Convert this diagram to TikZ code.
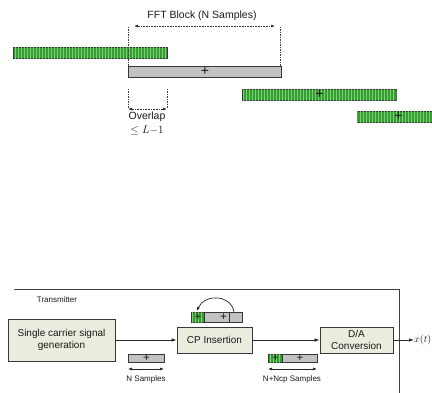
\documentclass[tikz,border=0pt]{standalone}
\usepackage{fontspec}
\setmainfont{Liberation Sans}
\usetikzlibrary{arrows.meta,patterns}
\definecolor{boxfill}{RGB}{236,236,222}
\definecolor{barfill}{RGB}{194,194,194}
\definecolor{greenfill}{RGB}{52,160,52}
\definecolor{greenline}{RGB}{125,205,115}
\definecolor{edge}{RGB}{55,55,55}
\begin{document}
\begin{tikzpicture}[x=1pt,y=-1pt,
  every node/.style={text=black!90},
  bar/.style={draw=edge, line width=0.8pt, inner sep=0pt, anchor=north west,
    font=\fontsize{14}{14}\selectfont},
  graybar/.style={bar, fill=barfill},
  greenbar/.style={bar, fill=greenfill,
    postaction={pattern=vertical lines, pattern color=greenline}},
  smallbar/.style={font=\fontsize{11.5}{11.5}\selectfont},
  block/.style={draw=edge, line width=0.8pt, fill=boxfill, align=center,
    inner sep=1pt, font=\fontsize{10}{12}\selectfont},
  label/.style={inner sep=0pt, font=\fontsize{8}{9}\selectfont},
  caption/.style={inner sep=0pt, font=\fontsize{10.5}{12}\selectfont},
  guide/.style={draw=black!75, line width=0.6pt, dash pattern=on 1.5pt off 1pt},
  span/.style={draw=black!80, line width=0.6pt, dash pattern=on 1pt off 0.6pt,
    {Latex[length=4pt,width=3pt]}-{Latex[length=4pt,width=3pt]}},
  solidspan/.style={draw=black!85, line width=0.6pt,
    {Latex[length=4pt,width=3pt]}-{Latex[length=4pt,width=3pt]}},
  flow/.style={draw=black!85, line width=0.7pt, -{Latex[length=5pt,width=3.5pt]}}
]
\useasboundingbox (0,0) rectangle (432,393);

% ---------- overlap of FFT blocks ----------
\node[caption] (fft) at (202,16) {FFT Block (N Samples)};
\node[greenbar, minimum width=154, minimum height=11] (g1) at (13,47) {};
\node[graybar, minimum width=153, minimum height=11] (blk) at (128,66) {+};
\node[greenbar, minimum width=154, minimum height=11] (g2) at (242,89) {+};
\node[greenbar, minimum width=82, minimum height=11] (g3) at (357,111) {+};

\coordinate (fl) at (128,27);
\coordinate (fr) at (280,27);
\coordinate (frb) at (280,66);
\draw[guide] (fl) -- (blk.north west);
\draw[guide] (fr) -- (frb);
\coordinate (fal) at (134,26);
\coordinate (far) at (275,26);
\draw[span] (fal) -- (far);

\coordinate (ol) at (128,89);
\coordinate (olb) at (128,109);
\coordinate (or) at (167,89);
\coordinate (orb) at (167,109);
\draw[guide] (ol) -- (olb);
\draw[guide] (or) -- (orb);
\draw[span] (olb) -- (orb);
\node[caption] (ovl) at (147,117) {Overlap};
\node[inner sep=0pt, font=\fontsize{11}{12}\selectfont] (lim) at (147,131) {$\leq L{-}1$};

% ---------- transmitter chain ----------
\coordinate (fa) at (14,289);
\coordinate (fb) at (399,289);
\coordinate (fc) at (399,394);
\draw[draw=black!75, line width=0.8pt] (fa) -- (fb) -- (fc);
\node[label] (tx) at (57,300) {Transmitter};

\node[block, minimum width=107, minimum height=42] (gen) at (61.5,340)
  {Single carrier signal\\generation};
\node[block, minimum width=75, minimum height=26] (cp) at (214.5,340) {CP Insertion};
\node[block, minimum width=73, minimum height=26] (da) at (356.5,340) {D/A\\Conversion};
\node[anchor=west, inner sep=0pt, font=\fontsize{10}{12}\selectfont] (xt) at (414,340) {$x(t)$};

\draw[flow] (gen) -- (cp);
\draw[flow] (cp) -- (da);
\draw[flow] (da) -- (xt);

% block of N samples
\node[graybar, smallbar, minimum width=36, minimum height=8] (nb) at (128,354) {+};
\coordinate (nl) at (128,369);
\coordinate (nr) at (164,369);
\draw[solidspan] (nl) -- (nr);
\node[label] (ns) at (146,379) {N Samples};

% cyclic prefix copied to the front
\node[greenbar, smallbar, minimum width=13, minimum height=10] (cpg) at (191,312) {+};
\node[graybar, smallbar, minimum width=38, minimum height=10] (cpb) at (204,312) {+};
\coordinate (dv) at (229,312);
\coordinate (dvb) at (229,322);
\draw[draw=edge, line width=0.8pt] (dv) -- (dvb);
\coordinate (ca) at (234,312);
\coordinate (cb) at (197,311);
\draw[draw=black!85, line width=0.7pt, -{Latex[length=4pt,width=3pt]}]
  (ca) .. controls (231,294) and (204,294) .. (cb);

% block of N+Ncp samples
\node[greenbar, smallbar, minimum width=14, minimum height=8] (pg) at (268,354) {+};
\node[graybar, smallbar, minimum width=35, minimum height=8] (pb) at (282,354) {+};
\coordinate (ml) at (268,369);
\coordinate (mr) at (317,369);
\draw[solidspan] (ml) -- (mr);
\node[label] (ms) at (292,379) {N+Ncp Samples};
\end{tikzpicture}
\end{document}
